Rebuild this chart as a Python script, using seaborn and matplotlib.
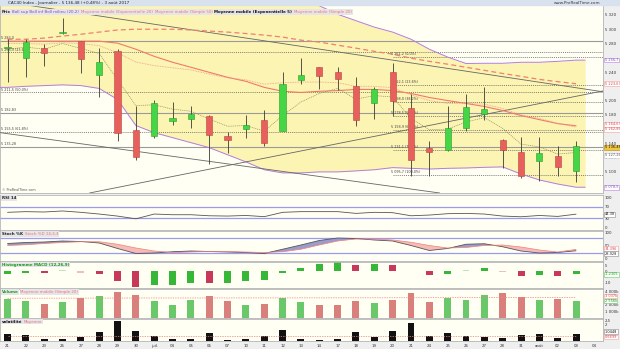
import numpy as np
import pandas as pd
import matplotlib
matplotlib.use("Agg")
import matplotlib.pyplot as plt
import matplotlib.transforms as mtransforms
from matplotlib.patches import Rectangle
import seaborn as sns

sns.set_theme(style="white")
plt.rcParams['font.family'] = ['DejaVu Sans']

# ---------------- data ----------------
days = ["21", "22", "23", "26", "27", "28", "29", "30", "juil.", "04", "05", "06", "07", "10", "11", "12",
        "13", "14", "17", "18", "19", "20", "21", "24", "25", "26", "27", "28", "31", "août", "02", "03", "04"]

opens = [5273.8, 5259.4, 5273.8, 5295.0, 5282.6, 5236.4, 5268.6, 5158.0, 5151.0, 5171.1, 5174.3, 5178.1,
         5150.1, 5160.8, 5172.5, 5158.0, 5229.4, 5246.2, 5239.2, 5220.1, 5196.8, 5239.7, 5189.3, 5133.7,
         5130.5, 5161.3, 5181.3, 5144.0, 5127.7, 5116.0, 5122.1, 5101.0]
highs = [5286.0, 5286.4, 5279.4, 5315.8, 5284.0, 5273.8, 5272.4, 5193.0, 5201.4, 5197.7, 5193.0, 5179.5,
         5155.7, 5180.0, 5187.0, 5239.7, 5259.4, 5247.5, 5246.8, 5232.8, 5218.7, 5252.8, 5209.4, 5144.0,
         5193.0, 5209.4, 5218.7, 5145.5, 5148.7, 5148.7, 5136.1, 5143.5]
lows = [5226.0, 5233.6, 5248.2, 5293.4, 5238.3, 5204.7, 5143.1, 5117.3, 5148.0, 5166.0, 5161.3, 5111.3,
        5126.7, 5147.7, 5135.6, 5157.0, 5223.4, 5216.4, 5215.4, 5164.9, 5174.3, 5178.1, 5094.9, 5094.0,
        5129.0, 5158.0, 5173.4, 5106.0, 5091.7, 5087.0, 5094.0, 5086.0]
closes = [5274.5, 5281.8, 5266.4, 5296.0, 5258.4, 5253.8, 5154.7, 5120.7, 5196.8, 5175.7, 5180.4, 5152.4,
          5145.4, 5165.5, 5141.2, 5222.9, 5235.5, 5235.0, 5230.4, 5173.4, 5216.4, 5199.9, 5117.3, 5127.7,
          5161.7, 5191.2, 5187.4, 5131.3, 5094.0, 5126.7, 5106.7, 5136.5]

boll_up = [5350, 5352, 5353, 5354, 5354, 5353, 5352, 5351, 5350, 5349, 5348, 5347, 5346, 5345, 5343, 5341,
           5340, 5333, 5321, 5312, 5303, 5296, 5286, 5272, 5261, 5252, 5252.3, 5252.3, 5253.7, 5253.7,
           5255, 5256.7]
boll_low = [5218.5, 5220, 5221, 5222, 5221, 5217, 5201.5, 5165, 5155, 5148, 5141, 5134, 5124, 5114, 5103,
            5098.6, 5098.6, 5100, 5100, 5101.4, 5103, 5106, 5105, 5104, 5105, 5105.5, 5106.4, 5107, 5097,
            5088.7, 5083, 5078.5]
boll_mid = [5283.3, 5283.3, 5283.3, 5283.3, 5283.3, 5283.3, 5280.5, 5272, 5262, 5253.7, 5246.7, 5239.6,
            5232.6, 5227, 5218.5, 5213, 5211.4, 5213, 5214, 5215.6, 5215.6, 5214, 5210, 5204.3, 5200, 5196,
            5191.7, 5186, 5179, 5173.3, 5167.7, 5164.6]
ema20 = [5280, 5280, 5279, 5281, 5280, 5277, 5267, 5254, 5249, 5246, 5243, 5237, 5232, 5229, 5223, 5225,
         5226, 5226, 5225, 5220, 5220, 5218, 5208, 5200, 5196, 5196, 5195, 5189, 5180, 5175, 5168, 5162.8]
sma50 = [5286, 5286, 5287.6, 5290.4, 5293, 5296, 5299, 5300, 5300, 5300, 5299, 5297.4, 5296, 5294, 5291.8,
         5289, 5284.7, 5282, 5277.7, 5273.5, 5269, 5265, 5259.4, 5255, 5251, 5246.7, 5242.4, 5238, 5234,
         5229.7, 5226.5, 5223.6]
ema5 = [5272, 5275, 5272, 5280, 5273, 5266, 5229, 5193, 5194, 5188, 5185, 5174, 5164, 5165, 5157, 5179,
        5198, 5210, 5217, 5202, 5207, 5205, 5175, 5159, 5160, 5170, 5176, 5161, 5139, 5135, 5125, 5127.2]

rsi = [50.6, 52.9, 51.7, 55.2, 50.6, 44.8, 37.9, 28.7, 44.8, 42.5, 42.5, 39.0, 38.0, 40.0, 36.0, 50.6,
       52.9, 52.9, 52.9, 47.0, 50.6, 49.4, 39.0, 41.4, 46.0, 47.1, 44.8, 38.0, 35.6, 40.0, 36.8, 44.38]

stoch_k = [58, 62, 64, 68, 66, 60, 38, 18, 20, 25, 28, 26, 24, 22, 18, 35, 52, 70, 80, 78, 72, 68, 50, 30,
           38, 55, 57, 45, 28, 20, 22, 28.93]
stoch_d = [50, 53, 58, 62, 65, 65, 55, 40, 28, 22, 24, 26, 26, 24, 22, 25, 35, 52, 68, 76, 76, 72, 63, 50,
           40, 42, 50, 52, 44, 32, 24, 34.40]

macd_hist = [-2.7, -1.8, -2.0, 0.6, -1.5, -2.7, -8.8, -14.0, -12.5, -12.4, -10.3, -11.0, -10.3, -8.8, -8.0,
             -1.8, 3.0, 6.4, 8.0, 5.5, 6.0, 5.2, 0.3, -3.3, -2.4, 0.5, 2.5, -0.5, -4.0, -3.1, -4.0, -3.0]
macd_col = ["up", "up", "dn", "upl", "dnl", "dn", "dn", "dn", "up", "up", "up", "dn", "up", "up", "up", "up",
            "up", "up", "up", "dn", "up", "dn", "dnl", "dn", "up", "upl", "up", "dnl", "dn", "up", "dn", "up"]

volume_k = [2810, 2570, 2140, 2430, 2950, 3240, 3860, 3430, 2520, 1860, 2710, 3330, 2520, 1950, 2050, 2900,
            2380, 1950, 1860, 2570, 2290, 2670, 3760, 2430, 2900, 2620, 3380, 3760, 3090, 2620, 2760, 2556]
volume_ma_k = [2930, 2935, 2940, 2945, 2950, 2955, 2960, 2965, 2970, 2970, 2970, 2975, 2975, 2975, 2980, 2980,
               2985, 2985, 2990, 2990, 2995, 3000, 3005, 3010, 3010, 3015, 3020, 3025, 3030, 3030, 3035, 3037]

volat = [0.90, 0.70, 0.31, 0.23, 0.55, 1.13, 2.54, 1.25, 0.59, 0.23, 0.23, 1.01, 0.12, 0.23, 0.66, 1.37,
         0.31, 0.16, 0.23, 1.09, 0.51, 1.21, 2.22, 0.59, 0.98, 0.59, 0.55, 0.35, 0.78, 0.90, 0.43, 0.86]
volat_ma = [0.62] * 32

# support / resistance levels on the whole width (price, label, style)
levels = [(5283.3, "5 283,0", "solid"), (5267.4, "5 266,9 (23,6%)", "dotted"),
          (5211.4, "5 211,5 (50,0%)", "dotted"), (5182.8, "5 182,83", "solid"),
          (5155.5, "5 155,5 (61,8%)", "dotted"), (5135.3, "5 135,28", "solid")]
# Fibonacci retracement drawn from 20 July (price, label)
fib_start = 21
fib_levels = [(5261.2, "5 261,2 (0,0%)"), (5222.1, "5 222,1 (23,6%)"), (5198.0, "5 198,0 (38,2%)"),
              (5178.5, "5 178,5 (50,0%)"), (5158.9, "5 158,9 (61,8%)"), (5131.1, "5 131,1 (78,6%)"),
              (5095.7, "5 095,7 (100,0%)")]
# trend lines: two anchor points (day index, price)
trend_lines = [((0, 5338), (31, 5218)), ((0, 5153.6), (20, 5083)), ((4, 5068), (31, 5206))]

# ---------------- figure ----------------
W, H = 620, 349
fig = plt.figure(figsize=(W / 100, H / 100), dpi=100, facecolor="#efefef")


def rect(top, bottom, left=0, right=603):
    return [left / W, 1 - bottom / H, (right - left) / W, (bottom - top) / H]


n = len(closes)
idx = np.arange(n)
XL = (-0.41, 32.47)
PANEL_BG = "#fffff4"
FS = 2.8
FSB = 2.55

fig.patches.append(Rectangle((0, 1 - 5 / H), 1, 5 / H, transform=fig.transFigure, color="#d8e2ee", zorder=0))
fig.text(8 / W, 1 - 2.7 / H, "CAC40 Index - Journalier - 5 136,48 (+0,48%) - 3 août 2017", fontsize=3.0,
         va="center", color="#222")
fig.text(600 / W, 1 - 2.7 / H, "www.ProRealTime.com", fontsize=3.0, va="center", ha="right", color="#333")

ax_p = fig.add_axes(rect(5, 193))
ax_r = fig.add_axes(rect(195, 230), sharex=ax_p)
ax_s = fig.add_axes(rect(231, 261), sharex=ax_p)
ax_m = fig.add_axes(rect(262, 288), sharex=ax_p)
ax_v = fig.add_axes(rect(289, 318), sharex=ax_p)
ax_t = fig.add_axes(rect(319, 341), sharex=ax_p)
axes = [ax_p, ax_r, ax_s, ax_m, ax_v, ax_t]

for a in axes:
    a.set_facecolor(PANEL_BG)
    for s in a.spines.values():
        s.set_color("#b5b5b5")
        s.set_linewidth(0.6)
    a.yaxis.tick_right()
    a.tick_params(axis="y", labelsize=FS, length=0, pad=1.2, colors="#333")
    a.tick_params(axis="x", length=0, labelbottom=False)


def right_box(ax, y, txt, fc, ec, tc):
    tr = mtransforms.blended_transform_factory(ax.transAxes, ax.transData)
    ax.text(1.003, y, txt, transform=tr, fontsize=FSB, va="center", ha="left", color=tc, clip_on=False,
            bbox=dict(boxstyle="square,pad=0.1", fc=fc, ec=ec, lw=0.4), zorder=10)


def panel_title(ax, parts):
    prev = None
    for txt, col, bold in parts:
        kw = dict(fontsize=2.9, color=col, fontweight="bold" if bold else "normal", va="top", ha="left",
                  bbox=dict(boxstyle="square,pad=0.2", fc="#e6e6ea", ec="none"), zorder=12)
        if prev is None:
            prev = ax.annotate(txt, xy=(0.003, 0.975), xycoords="axes fraction", **kw)
        else:
            prev = ax.annotate(txt, xy=(1, 1), xycoords=prev, xytext=(1.2, 0), textcoords="offset points", **kw)


# ---------------- price panel ----------------
xb = np.concatenate([[-0.45], idx, [n - 0.5]])
up_b = np.concatenate([[boll_up[0]], boll_up, [boll_up[-1]]])
lo_b = np.concatenate([[boll_low[0]], boll_low, [boll_low[-1]]])
ax_p.fill_between(xb, lo_b, up_b, color="#fcf4b2", lw=0, zorder=1)
sns.lineplot(x=xb, y=up_b, ax=ax_p, color="#b47be0", lw=0.7, zorder=3)
sns.lineplot(x=xb, y=lo_b, ax=ax_p, color="#b47be0", lw=0.7, zorder=3)

for price, lab, st in levels:
    if st == "solid":
        ax_p.axhline(price, color="#9a9a9a", lw=0.8, zorder=2)
    else:
        ax_p.axhline(price, color="#555", lw=0.5, ls=(0, (1.5, 1.5)), zorder=2)
    ax_p.text(-0.35, price + 1.2, lab, fontsize=2.4, color="#444", va="bottom", ha="left", zorder=4)

for price, lab in fib_levels:
    ax_p.hlines(price, fib_start, XL[1], color="#555", lw=0.5, ls=(0, (1.5, 1.5)), zorder=2)
    ax_p.text(fib_start - 0.1, price + 1.2, lab, fontsize=2.4, color="#444", va="bottom", ha="left", zorder=4)

for (x1, y1), (x2, y2) in trend_lines:
    ax_p.axline((x1, y1), (x2, y2), color="#666", lw=0.6, zorder=3)

sns.lineplot(x=idx, y=sma50, ax=ax_p, color="#f08070", lw=0.9, linestyle=(0, (4, 2.5)), zorder=3)
sns.lineplot(x=idx, y=boll_mid, ax=ax_p, color="#f07a6a", lw=0.8, zorder=3)
sns.lineplot(x=idx, y=ema20, ax=ax_p, color="#f09a8a", lw=0.6, linestyle=(0, (1, 1)), zorder=3)
sns.lineplot(x=idx, y=ema5, ax=ax_p, color="#8f8f60", lw=0.5, linestyle=(0, (1.5, 1.2)), zorder=3)

o = np.array(opens); c = np.array(closes)
up = c >= o
ax_p.vlines(idx, lows, highs, color="#3a3a3a", lw=0.6, zorder=5)
ax_p.bar(idx, np.abs(c - o) + 0.6, bottom=np.minimum(o, c) - 0.3, width=0.34,
         color=np.where(up, "#45d645", "#e8605c"), edgecolor=np.where(up, "#2c9a2c", "#b84440"), lw=0.4,
         zorder=6)

ax_p.set_ylim(5070.4, 5334)
ax_p.set_yticks([5100, 5120, 5140, 5180, 5200, 5240, 5280, 5300, 5320])
ax_p.set_yticklabels(["5 100", "5 120", "5 140", "5 180", "5 200", "5 240", "5 280", "5 300", "5 320"])
right_box(ax_p, boll_up[-1], "5 256,7", "white", "#b47be0", "#8a4fc0")
right_box(ax_p, sma50[-1], "5 223,63", "white", "#f0a0a0", "#e04040")
right_box(ax_p, boll_mid[-1] + 2, "5 164,63", "white", "#f0a0a0", "#e04040")
right_box(ax_p, ema20[-1] - 3, "5 162,86", "white", "#f0a0a0", "#e04040")
right_box(ax_p, closes[-1] - 2.0, "5 136,48", "#f3c640", "#b08a10", "#111")
right_box(ax_p, ema5[-1] - 4.0, "5 127,26", "white", "#cccccc", "#555")
right_box(ax_p, boll_low[-1], "5 078,5", "white", "#b47be0", "#8a4fc0")
ax_p.text(-0.3, 5073, "© ProRealTime.com", fontsize=2.4, color="#555", zorder=4)
panel_title(ax_p, [("Prix", "#222", True), ("Boll sup Boll inf Boll milieu (20,2)", "#8040c0", False),
                   ("Moyenne mobile (Exponentielle 20)", "#f07070", False),
                   ("Moyenne mobile (Simple 50)", "#f07070", False),
                   ("Moyenne mobile (Exponentielle 5)", "#111", True),
                   ("Moyenne mobile (Simple 20)", "#f07070", False)])

# ---------------- RSI ----------------
ax_r.axhline(70, color="#9a9af0", lw=0.9)
ax_r.axhline(30, color="#9a9af0", lw=0.9)
sns.lineplot(x=idx, y=rsi, ax=ax_r, color="#555", lw=0.6)
ax_r.set_ylim(-9, 109)
ax_r.set_yticks([0, 30, 70, 100])
ax_r.set_yticklabels(["0", "30", "70", "100"])
right_box(ax_r, rsi[-1], "44,38", "white", "#888", "#222")
panel_title(ax_r, [("RSI 14", "#222", True)])

# ---------------- Stochastic ----------------
k = np.array(stoch_k); d = np.array(stoch_d)
ax_s.fill_between(idx, k, d, where=k >= d, interpolate=True, color="#9090c8", alpha=0.9, lw=0)
ax_s.fill_between(idx, k, d, where=k < d, interpolate=True, color="#f6b4b0", alpha=0.9, lw=0)
ax_s.axhline(80, color="#9a9af0", lw=0.9)
ax_s.axhline(20, color="#9a9af0", lw=0.9)
sns.lineplot(x=idx, y=stoch_k, ax=ax_s, color="#555", lw=0.6)
sns.lineplot(x=idx, y=stoch_d, ax=ax_s, color="#f08080", lw=0.5)
ax_s.set_ylim(-12, 108)
ax_s.set_yticks([0, 50, 100])
ax_s.set_yticklabels(["0", "50", "100"])
right_box(ax_s, stoch_d[-1] + 3, "34,396", "white", "#f0a0a0", "#e04040")
right_box(ax_s, stoch_k[-1] - 11, "28,928", "white", "#888", "#222")
panel_title(ax_s, [("Stoch %K", "#222", True), ("Stoch %D 14,3,3", "#f07070", False)])

# ---------------- MACD histogram ----------------
dfm = pd.DataFrame({"i": idx, "v": macd_hist, "c": macd_col})
sns.barplot(data=dfm, x="i", y="v", hue="c", dodge=False, width=0.38, legend=False, ax=ax_m,
            palette={"up": "#22cc22", "dn": "#e0204a", "upl": "#b6ecb6", "dnl": "#f3b8c2"},
            edgecolor="none")
ax_m.set_ylim(-15, 8)
ax_m.set_yticks([-10, -5, 0, 5])
ax_m.set_yticklabels(["-10", "-5", "0", "5"])
right_box(ax_m, -2.9, "-1,2305", "white", "#6c6", "#1a9a1a")
panel_title(ax_m, [("Histogramme MACD (12,26,9)", "#1a9a1a", True)])

# ---------------- Volume ----------------
dfv = pd.DataFrame({"i": idx, "v": volume_k, "d": np.where(up, "up", "dn")})
sns.barplot(data=dfv, x="i", y="v", hue="d", dodge=False, width=0.38, legend=False, ax=ax_v,
            palette={"up": "#5ad85a", "dn": "#ea726c"}, edgecolor="none")
sns.lineplot(x=idx, y=volume_ma_k, ax=ax_v, color="#f08080", lw=0.5, linestyle=(0, (2, 1.5)))
ax_v.set_ylim(0, 4300)
ax_v.set_yticks([1000, 2000, 4000])
ax_v.set_yticklabels(["1 000k", "2 000k", "4 000k"])
right_box(ax_v, 3250, "3 037k", "white", "#f0a0a0", "#e04040")
right_box(ax_v, 2500, "2 556k", "white", "#6c6", "#1a9a1a")
panel_title(ax_v, [("Volume", "#1a9a1a", True), ("Moyenne mobile (Simple 20)", "#f07070", False)])

# ---------------- Volatility ----------------
dft = pd.DataFrame({"i": idx, "v": volat})
sns.barplot(data=dft, x="i", y="v", color="#111", width=0.38, ax=ax_t, edgecolor="none")
sns.lineplot(x=idx, y=volat_ma, ax=ax_t, color="#f08080", lw=0.5, linestyle=(0, (2, 1.5)))
ax_t.set_ylim(0, 2.75)
ax_t.set_yticks([2, 2.5])
ax_t.set_yticklabels(["2", "2,5"])
right_box(ax_t, 1.15, "1,0448", "white", "#888", "#111")
right_box(ax_t, 0.5, "0,6699", "white", "#f0a0a0", "#e04040")
panel_title(ax_t, [("volatilité", "#111", True), ("Moyenne", "#f07070", False)])

for a in axes:
    a.set_xlabel("")
    a.set_ylabel("")
    a.set_xlim(*XL)

ax_t.set_xticks(np.arange(len(days)))
ax_t.set_xticklabels(days)
ax_t.tick_params(axis="x", labelbottom=True, labelsize=FS, length=1.2, pad=1.0, colors="#333", width=0.4)

fig.savefig("out.png", dpi=100, facecolor=fig.get_facecolor())
